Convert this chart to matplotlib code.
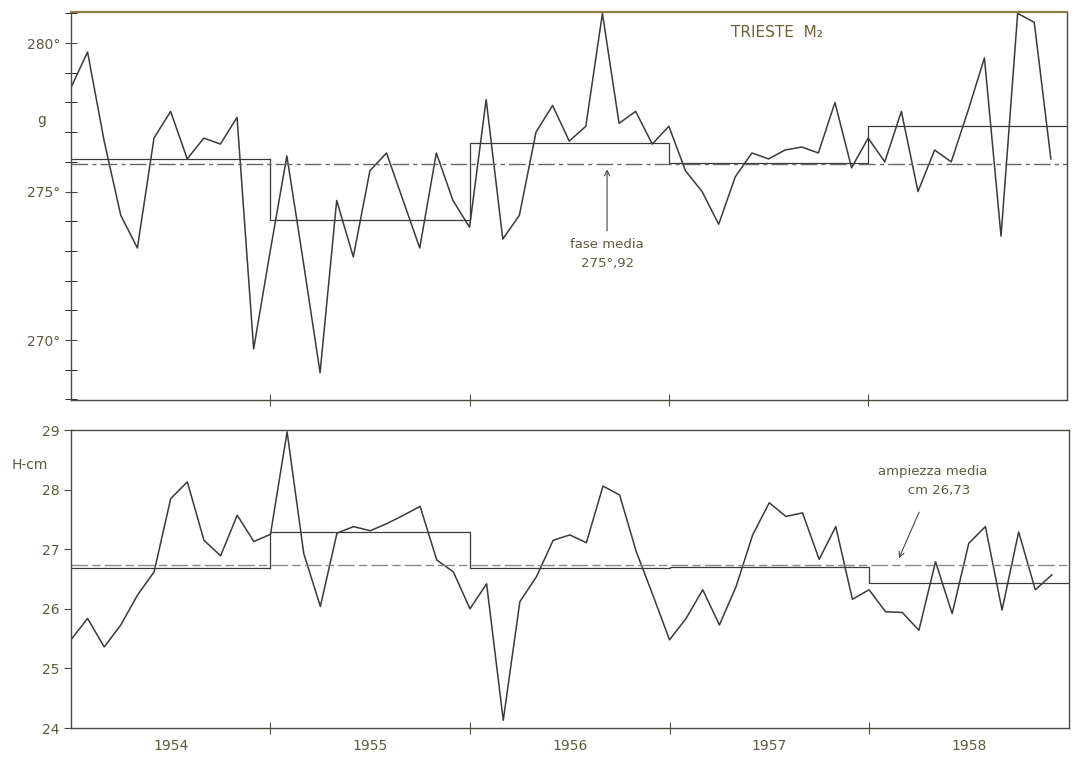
"""
plot.py - Trieste M2 tide: monthly phase g and amplitude H, 1954-1958
"""

import numpy as np
import matplotlib
matplotlib.use("Agg")
import matplotlib.pyplot as plt

# ── Data ────────────────────────────────────────
YEARS = [1954, 1955, 1956, 1957, 1958]

# monthly phase g (degrees), Jan 1954 .. Dec 1958
phase = [
    278.5, 279.7, 276.7, 274.2, 273.1, 276.8, 277.7, 276.1, 276.8, 276.6, 277.5, 269.7,
    273.0, 276.2, 272.6, 268.9, 274.7, 272.8, 275.7, 276.3, 274.7, 273.1, 276.3, 274.7,
    273.8, 278.1, 273.4, 274.2, 277.0, 277.9, 276.7, 277.2, 281.0, 277.3, 277.7, 276.6,
    277.2, 275.7, 275.0, 273.9, 275.5, 276.3, 276.1, 276.4, 276.5, 276.3, 278.0, 275.8,
    276.8, 276.0, 277.7, 275.0, 276.4, 276.0, 277.7, 279.5, 273.5, 281.0, 280.7, 276.1,
]
phase_year_mean = [276.1, 274.05, 276.65, 275.95, 277.2]
phase_mean = 275.92

# monthly amplitude H (cm)
ampl = [
    25.48, 25.84, 25.36, 25.73, 26.23, 26.62, 27.85, 28.13, 27.15, 26.89, 27.57, 27.13,
    27.25, 28.97, 26.93, 26.04, 27.27, 27.38, 27.31, 27.43, 27.57, 27.72, 26.82, 26.62,
    26.00, 26.42, 24.13, 26.12, 26.54, 27.15, 27.24, 27.11, 28.06, 27.91, 26.96, 26.23,
    25.48, 25.84, 26.32, 25.73, 26.37, 27.24, 27.78, 27.55, 27.61, 26.83, 27.38, 26.16,
    26.32, 25.95, 25.94, 25.64, 26.79, 25.92, 27.10, 27.38, 25.98, 27.29, 26.32, 26.57,
]
ampl_year_mean = [26.68, 27.29, 26.68, 26.70, 26.44]
ampl_mean = 26.73
# ────────────────────────────────────────────────

LINE = "#3a3a3a"
TXT = "#5e5a40"
FRAME = "#4a4a40"

t = YEARS[0] + np.arange(len(phase)) / 12.0
edges = YEARS + [YEARS[-1] + 1]

fig = plt.figure(figsize=(10.75, 7.64), dpi=100)
ax1 = fig.add_axes([0.066, 0.4764, 0.927, 0.508])
ax2 = fig.add_axes([0.066, 0.0471, 0.928, 0.390])

for ax in (ax1, ax2):
    ax.set_xlim(YEARS[0], YEARS[-1] + 1)
    for s in ax.spines.values():
        s.set_color(FRAME)
        s.set_linewidth(1.0)
    ax.set_xticks(YEARS[1:])
    ax.set_xticklabels([])
    ax.set_xticks([y + 0.5 for y in YEARS], minor=True)
    ax.tick_params(axis="x", which="major", direction="inout", length=8,
                   color=FRAME)
    ax.tick_params(axis="x", which="minor", length=0)
    ax.tick_params(axis="y", colors=FRAME, labelcolor=TXT, labelsize=10)

ax1.spines["top"].set_color("#8b7d4b")
ax1.spines["top"].set_linewidth(1.6)

# ── Top panel: phase ──
ax1.plot(t, phase, color=LINE, lw=1.1)
ax1.step(edges, phase_year_mean + [phase_year_mean[-1]], where="post",
         color=LINE, lw=0.9)
ax1.axhline(phase_mean, color="#666666", lw=1.0, ls=(0, (12, 3, 3, 3)))
ax1.set_ylim(267.98, 281.05)
ax1.set_yticks([270, 275, 280])
ax1.set_yticklabels(["270°", "275°", "280°"])
ax1.set_yticks(np.arange(268, 282, 1), minor=True)
ax1.tick_params(axis="y", which="both", direction="inout", length=8)
ax1.text(-0.029, 277.4, "g", transform=ax1.get_yaxis_transform(),
         ha="center", va="center", color=TXT, fontsize=10)
ax1.text(1957.31, 280.37, "TRIESTE  M₂", color="#6b6336", fontsize=11,
         ha="left", va="center")
ax1.annotate("fase media\n275°,92", xy=(1956.69, 275.75),
             xytext=(1956.69, 272.9), ha="center", va="center",
             color=TXT, fontsize=9.5, linespacing=1.6,
             arrowprops=dict(arrowstyle="->", color=FRAME, lw=0.8,
                             shrinkA=3, shrinkB=0))

# ── Bottom panel: amplitude ──
ax2.plot(t, ampl, color=LINE, lw=1.1)
ax2.step(edges, ampl_year_mean + [ampl_year_mean[-1]], where="post",
         color=LINE, lw=0.9)
ax2.axhline(ampl_mean, color="#888888", lw=1.0, ls=(0, (12, 3, 6, 3)))
ax2.set_ylim(24, 29)
ax2.set_yticks(np.arange(24, 30, 1))
ax2.tick_params(axis="y", direction="out", length=5)
ax2.set_xticklabels([str(y) for y in YEARS], minor=True)
ax2.tick_params(axis="x", which="minor", pad=8, labelcolor=TXT, labelsize=10)
ax2.text(-0.041, 28.41, "H-cm", transform=ax2.get_yaxis_transform(),
         ha="center", va="center", color=TXT, fontsize=10)
ax2.annotate("ampiezza media\n   cm 26,73", xy=(1958.15, 26.85),
             xytext=(1958.32, 28.15), ha="center", va="center",
             color=TXT, fontsize=9.5, linespacing=1.6,
             arrowprops=dict(arrowstyle="->", color=FRAME, lw=0.8,
                             shrinkA=10, shrinkB=0))

plt.savefig("out.png", dpi=100)
plt.close()
